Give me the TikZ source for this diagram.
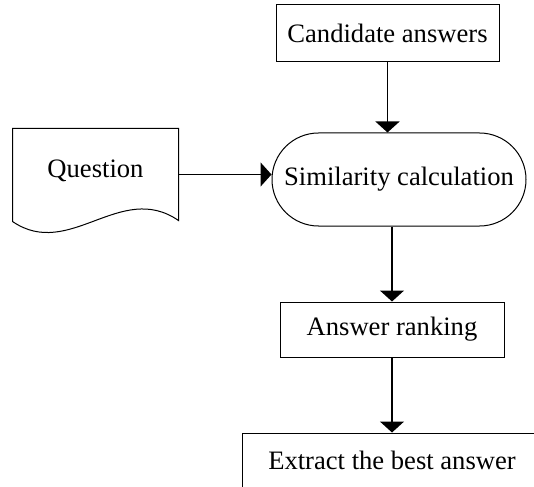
\documentclass[tikz,border=0pt]{standalone}
\usepackage{fontspec}
\setmainfont{Liberation Serif}
\usetikzlibrary{positioning,shapes.misc,arrows.meta,calc}
\tikzset{flowarrow/.style = {line width=0.7pt,-{Triangle[width=12pt,length=5.5pt]}}}

\begin{document}
\begin{tikzpicture}[x=0.5pt,y=-0.5pt,
  every node/.style={font=\fontsize{13.3}{16}\selectfont,inner sep=0pt,line width=0.5pt},
  stepbox/.style={draw,rectangle},
  roundbox/.style={draw,rounded rectangle},
  docnode/.style={rectangle,text height=9pt,text depth=6pt}
  ]
  \useasboundingbox (0,0) rectangle (534,486);
  \clip (0,0) rectangle (534,486);

  % the steps
  \node[stepbox,minimum width=111.5pt,minimum height=28.5pt] (cand) at (387.5,33.5) {Candidate answers};
  \node[roundbox,minimum width=127pt,minimum height=46.5pt] (sim) at (399,179.5) {Similarity calculation};
  \node[stepbox,minimum width=112pt,minimum height=27.5pt] (rank) at (392,329.5) {Answer ranking};
  \node[stepbox,minimum width=150pt,minimum height=27pt] (best) at (392,460) {Extract the best answer};

  % the question document
  \node[docnode,minimum width=82.5pt,minimum height=45.5pt] (q) at (95.5,174.5) {Question};
  \draw[line width=0.5pt] (q.north west) -- (q.north east) -- (q.south east)
    .. controls +(-58,-40) and +(57,39) .. ($(q.south west)+(0,1)$) -- cycle;

  % the arrows
  \draw[flowarrow] (cand.south) -- (cand.south |- sim.north);
  \draw[flowarrow] (q.east) -- (q.east -| sim.west);
  \draw[flowarrow] (rank.north |- sim.south) -- (rank.north);
  \draw[flowarrow] (rank.south) -- (best.north);
\end{tikzpicture}
\end{document}
